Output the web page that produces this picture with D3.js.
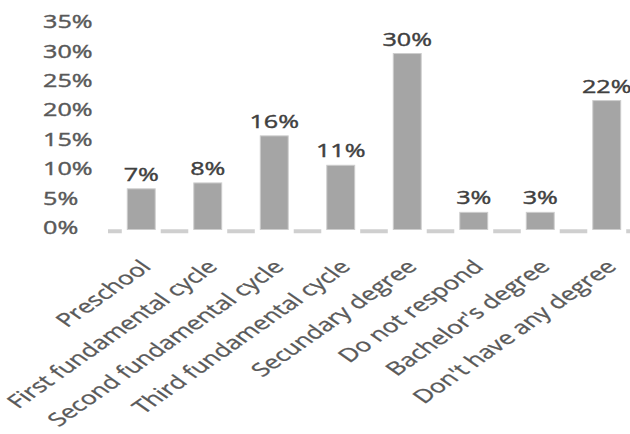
<!DOCTYPE html>
<html>
<head>
<meta charset="utf-8">
<script src="https://cdn.jsdelivr.net/npm/d3@7/dist/d3.min.js"></script>
<style>
  html, body { margin: 0; padding: 0; background: #fff; }
  svg { display: block; }
  text { font-family: "Open Sans", sans-serif; }
</style>
</head>
<body>
<svg id="chart" width="630" height="434"></svg>
<script>
const categories = ["Preschool", "First fundamental cycle", "Second fundamental cycle", "Third fundamental cycle",
  "Secundary degree", "Do not respond", "Bachelor's degree", "Don't have any degree"];
const values = [0.07, 0.08, 0.16, 0.11, 0.30, 0.03, 0.03, 0.22];
const yTicks = [0, 0.05, 0.10, 0.15, 0.20, 0.25, 0.30, 0.35];
const yTickLabels = ["0%", "5%", "10%", "15%", "20%", "25%", "30%", "35%"];
const valueLabels = ["7%", "8%", "16%", "11%", "30%", "3%", "3%", "22%"];

const svg = d3.select("#chart");
const SX = 1.36;
const SXL = 1.42;

const x = d3.scaleBand().domain(categories).range([108, 640]).paddingInner(0.565).paddingOuter(0.2825);
const y = d3.scaleLinear().domain([0, 0.35]).range([229.5, 23.6]);

// y tick labels (left aligned)
svg.append("g").selectAll("text").data(yTicks).join("text")
  .attr("transform", (d) => `translate(43,${y(d) + 4.6}) scale(${SX},1)`)
  .attr("font-size", 18.5)
  .attr("fill", "#595959")
  .attr("stroke", "#595959").attr("stroke-width", 0.4)
  .text((d, i) => yTickLabels[i]);

// axis baseline
svg.append("line")
  .attr("x1", x.range()[0]).attr("x2", x.range()[1])
  .attr("y1", y(0) + 1.8).attr("y2", y(0) + 1.8)
  .attr("stroke", "#cfcfcf").attr("stroke-width", 4);

// white gaps around bars
svg.append("g").selectAll("rect").data(categories).join("rect")
  .attr("x", (d) => x(d) - 5)
  .attr("width", x.bandwidth() + 10)
  .attr("y", y(0) - 1)
  .attr("height", 6)
  .attr("fill", "#fff");

// bars
svg.append("g").selectAll("rect").data(values).join("rect")
  .attr("x", (d, i) => x(categories[i]) + 0.5)
  .attr("width", x.bandwidth() - 1)
  .attr("y", (d) => y(d) + 0.5)
  .attr("height", (d) => y(0) - y(d) - 0.5)
  .attr("fill", "#a5a5a5")
  .attr("stroke", "#cdcdcd")
  .attr("stroke-width", 1);

// value labels
svg.append("g").selectAll("text").data(values).join("text")
  .attr("transform", (d, i) => `translate(${x(categories[i]) + x.bandwidth() / 2},${y(d) - 7.5}) scale(${SX},1)`)
  .attr("text-anchor", "middle")
  .attr("font-size", 18.5)
  .attr("fill", "#404040")
  .attr("stroke", "#404040").attr("stroke-width", 0.4)
  .text((d, i) => valueLabels[i]);

// category labels rotated
svg.append("g").selectAll("text").data(categories).join("text")
  .attr("transform", (d) => `translate(${x(d) + x.bandwidth() / 2 + 11},268) scale(${SXL},1) rotate(-45)`)
  .attr("text-anchor", "end")
  .attr("font-size", 18.5)
  .attr("fill", "#595959")
  .attr("stroke", "#595959").attr("stroke-width", 0.3)
  .text((d) => d);
</script>
</body>
</html>
